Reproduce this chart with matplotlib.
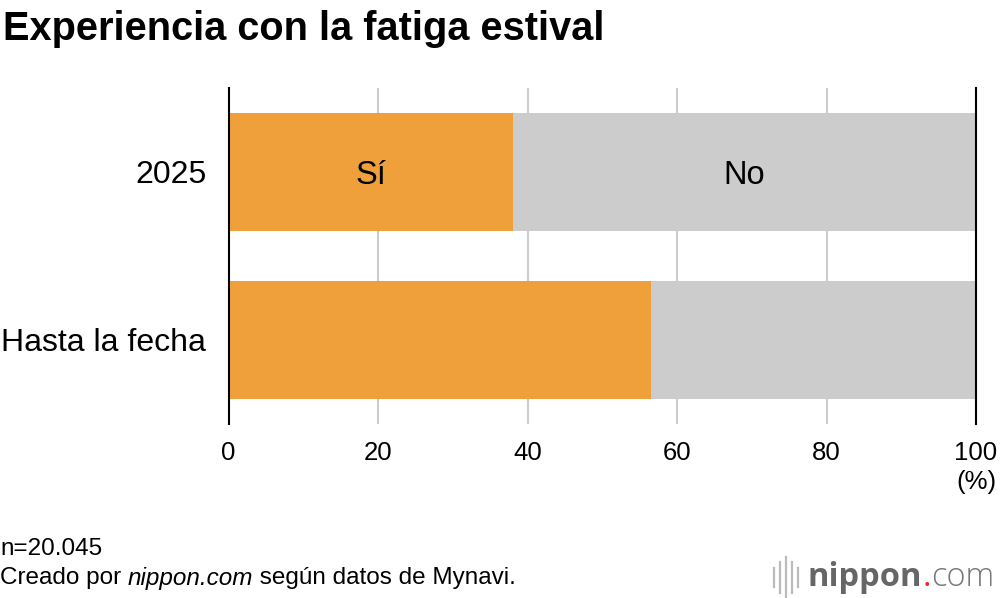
import matplotlib.pyplot as plt
from matplotlib.lines import Line2D

plt.rcParams['font.family'] = ['Liberation Sans', 'DejaVu Sans']

# data
categories = ['2025', 'Hasta la fecha']
si_values = [38.0, 56.5]
no_values = [100 - v for v in si_values]
xticks = [0, 20, 40, 60, 80, 100]

orange = '#F0A03A'
grey = '#CCCCCC'

fig = plt.figure(figsize=(10, 5.98), dpi=100)
ax = fig.add_axes([0.2285, 0.291, 0.7475, 0.562])

ypos = list(range(len(categories)))
ax.barh(ypos, si_values, height=0.7, color=orange, zorder=2)
ax.barh(ypos, no_values, left=si_values, height=0.7, color=grey, zorder=2)

ax.set_xlim(0, 100)
ax.set_ylim(1.5, -0.5)
ax.set_xticks(xticks)
ax.set_xticklabels([str(t) for t in xticks], fontsize=18.5)
ax.set_yticks(ypos)
ax.set_yticklabels(categories, fontsize=23)
ax.tick_params(axis='x', length=0, pad=12)
ax.tick_params(axis='y', length=0, pad=16)
for lab in ax.get_yticklabels():
    lab.set_va('center_baseline')

for t in xticks[1:-1]:
    ax.axvline(t, color='#CCCCCC', lw=1.5, zorder=1)

for side in ['top', 'bottom']:
    ax.spines[side].set_visible(False)
for side in ['left', 'right']:
    ax.spines[side].set_color('black')
    ax.spines[side].set_linewidth(1.5)

# labels inside the 2025 bar
ax.text(si_values[0] / 2, 0, 'Sí', ha='center', va='center_baseline', fontsize=23.5, zorder=3)
ax.text(si_values[0] + no_values[0] / 2, 0, 'No', ha='center', va='center_baseline',
        fontsize=23.5, zorder=3)

ax.annotate('(%)', xy=(1.0, 0.0), xycoords='axes fraction', xytext=(0, -42),
            textcoords='offset points', ha='center', va='center', fontsize=18.5)

fig.text(0.003, 0.952, 'Experiencia con la fatiga estival', fontsize=28.6, fontweight='bold',
         ha='left', va='center')

fs = 17.5
fig.text(0.0, 0.082, 'n=20.045', fontsize=fs, ha='left', va='center')
t1 = fig.text(0.0, 0.033, 'Creado por ', fontsize=fs, ha='left', va='center')
fig.canvas.draw()
r = fig.canvas.get_renderer()
x = t1.get_window_extent(r).x1 / fig.bbox.width
t2 = fig.text(x, 0.033, 'nippon.com', fontsize=fs, style='italic', ha='left', va='center')
x = t2.get_window_extent(r).x1 / fig.bbox.width
fig.text(x, 0.033, ' según datos de Mynavi.', fontsize=fs, ha='left', va='center')

# logo
bar_x = [0.774, 0.780, 0.786, 0.792, 0.798]
bar_h = [0.016, 0.026, 0.034, 0.026, 0.016]
for bx, bh in zip(bar_x, bar_h):
    fig.add_artist(Line2D([bx, bx], [0.035 - bh, 0.035 + bh], color='#BBBBBB', lw=1.6))
lf = 23.5
l1 = fig.text(0.808, 0.035, 'nippon', fontsize=lf, fontweight='bold', color='#666666',
              ha='left', va='center', family='Open Sans')
fig.canvas.draw()
x = l1.get_window_extent(r).x1 / fig.bbox.width
l2 = fig.text(x, 0.035, '.', fontsize=lf, color='#E8262B', ha='left', va='center', family='Open Sans')
fig.canvas.draw()
x = l2.get_window_extent(r).x1 / fig.bbox.width
fig.text(x, 0.035, 'com', fontsize=lf, color='#777777', ha='left', va='center',
         family='Open Sans', fontweight='light')

fig.savefig('out.png', dpi=100)
